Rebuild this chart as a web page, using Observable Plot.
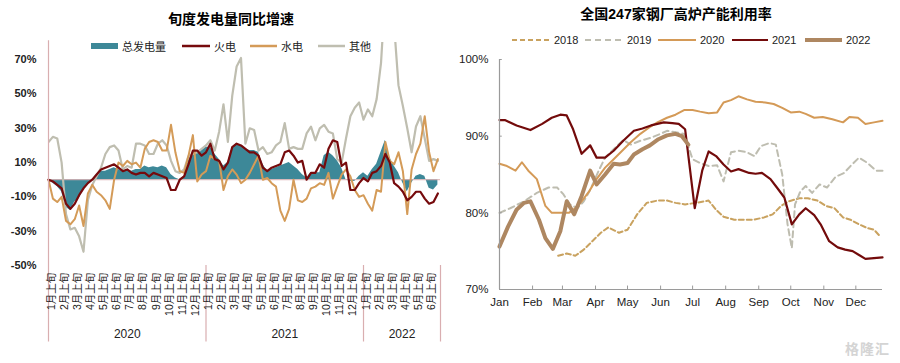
<!DOCTYPE html>
<html><head><meta charset="utf-8">
<script src="https://cdn.jsdelivr.net/npm/d3@7"></script>
<script src="https://cdn.jsdelivr.net/npm/@observablehq/plot@0.6"></script>
<style>
body{margin:0;background:#fff;font-family:"Liberation Sans",Arial,"Noto Sans CJK SC",sans-serif;}
#wrap{position:relative;width:900px;height:363px;overflow:hidden;background:#fff;}
.title{position:absolute;font-weight:bold;font-size:14px;color:#000;white-space:nowrap;transform:translate(-50%,-50%);}
.chart{position:absolute;top:0;}
.leg{position:absolute;font-size:11px;color:#222;display:flex;align-items:center;white-space:nowrap;transform:translateY(-50%);}
.leg svg{margin-right:4px;display:block;}
.wm{position:absolute;left:845px;top:338px;font-size:14px;color:#d4d4d4;font-weight:bold;letter-spacing:1px;}
</style></head><body><div id="wrap"></div>
<script>
// ---------- Left chart data: 旬度发电量同比增速 (%), 2020年1月上旬 - 2022年6月下旬 ----------
const total = [0,-2,-4,-7,-16,-18,-13,-11,-6,-3, 0,3,5,5,6,7,6,5,6,5, 6,6,8,7,7.5,7,8,7,3,1, 0,2,11,16,16,17,19,19,15,12, 8,10,19,21,20,18,17,17,16,9, 5,6,7,8,9,10,8,6,3,1, 4,4,4,14,16,14,11,7,0,-1, -1,2,4,2,6,9,16,23,13,8, 4,-2,-7,-2,2,3,2,-5,-6,-3];
const thermal = [0,-1,-3,-5,-14,-17,-14,-9,-5,-2, 0,3,6,7,8,9,7,5,6,4, 3,4,4,2,4,3,2,1,-6,-6, 0,2,9,17,17,14,16,21,12,11, 6,10,19,21,20,18,16,16,14,7, 5,7,8,9,16,17,14,10,11,0, 4,4,9,7,18,23,22,8,10,-6, -6,-2,1,-1,4,5,8,15,10,-2, -4,-7,-12,-10,-7,-7,-11,-14,-13,-8];
const hydro = [0,-11,-13,-10,-24,-26,-23,-15,-27,-8, -3,-7,-9,-12,-17,0,10,8,11,9, 10,7,18,22,23,22,17,17,32,16, 5,4,14,26,-1,3,5,14,12,11, -6,2,6,3,-2,0,4,9,14,0, 1,-2,-4,-18,-24,-17,0,-12,-13,-11, -5,-4,-2,-3,4,-11,-4,3,6,2, -6,-10,-9,-14,-18,-6,-7,22,11,9, 16,5,-20,6,15,21,37,16,5,12];
const other = [22,25,24,10,-20,-29,-28,-33,-42,-12, -3,2,7,15,19,20,17,6,8,7, 21,21,20,15,15,21,23,20,11,5, 4,6,14,15,16,18,20,23,17,28, 44,22,49,66,71,21,30,29,17,19, 15,16,20,22,33,18,19,18,18,27, 31,23,30,32,28,27,12,10,24,37, 42,45,35,41,37,47,68,110,110,90, 55,43,30,16,31,37,24,11,12,11];
const monthLabels = ["1月上旬","2月上旬","3月上旬","4月上旬","5月上旬","6月上旬","7月上旬","8月上旬","9月上旬","10月上旬","11月上旬","12月上旬"];
const tickLabels = [...monthLabels, ...monthLabels, ...monthLabels.slice(0, 6)];
const years = ["2020", "2021", "2022"];
const leftYTicks = [-50, -30, -10, 10, 30, 50, 70];
const leftSeriesNames = ["总发电量", "火电", "水电", "其他"];

// ---------- Right chart data: 全国247家钢厂高炉产能利用率 (%) ----------
const days2018 = [55,63,71,79,87,95,102,112,120,129,138,148,157,165,174,184,196,203,210,220,229,238,248,256,264,271,281,289,298,306,314,322,329,337,345,351,357];
const util2018 = [74.4,74.7,74.4,75.2,76.3,77.4,78.1,77.4,77.8,79.8,81.3,81.6,81.6,81.3,81.1,81.3,81.6,80.4,79.5,79.1,79.1,79.1,79.4,79.8,80.9,81.5,81.9,81.9,81.6,80.9,80.6,79.4,79.1,78.5,78.0,77.8,76.9];
const days2019 = [0,10,23,35,46,54,60,66,73,79,85,93,99,107,116,123,132,142,151,157,165,173,181,188,196,204,210,217,224,232,239,245,253,259,265,270,274,277,282,287,293,300,307,315,323,329,337,345,353,359];
const util2019 = [80.0,80.6,81.5,82.6,83.3,83.3,82.4,81.1,80.6,81.5,83.0,85.5,87.2,88.3,89.5,88.9,89.4,89.8,90.3,90.7,90.5,90.3,87.0,86.5,86.1,86.2,84.1,87.9,88.1,87.9,87.4,88.7,89.1,88.9,85.0,78.5,75.4,81.1,82.8,83.5,82.6,83.7,83.3,84.7,85.2,86.1,87.2,86.5,85.5,85.5];
const days2020 = [0,7,15,21,27,35,43,49,57,65,71,77,84,91,99,107,115,123,132,140,148,157,165,173,181,188,196,204,210,217,224,232,240,249,257,265,273,281,287,295,303,312,322,328,336,343,351,359];
const util2020 = [86.4,86.1,85.5,86.6,85.5,84.4,80.9,80.0,80.0,80.0,80.6,81.5,82.8,84.4,85.9,87.0,88.1,89.2,90.3,91.1,91.8,92.4,92.8,93.4,93.4,93.2,93.0,93.1,94.4,94.7,95.2,94.8,94.5,94.4,94.2,93.7,93.1,93.2,92.9,92.4,92.5,92.2,91.8,92.5,92.4,91.6,91.8,92.0];
const days2021 = [0,5,16,29,40,49,57,63,69,77,85,91,99,107,116,126,134,142,154,162,168,174,183,190,196,203,210,217,224,234,240,246,254,260,267,274,281,287,295,301,309,317,324,331,337,343,351,359];
const util2021 = [92.1,92.1,91.4,90.8,91.6,92.4,92.8,92.7,90.9,87.7,88.8,87.2,87.2,88.1,89.4,90.7,91.0,91.4,91.8,91.7,91.6,90.9,80.6,85.5,88.0,87.4,86.3,85.4,85.7,85.2,85.1,85.2,84.4,83.3,82.0,78.5,79.8,80.6,79.7,78.5,76.3,75.5,75.2,75.0,74.5,74.0,74.1,74.2];
const days2022 = [0,8,16,23,29,37,43,50,57,63,70,77,85,91,99,107,113,120,126,134,141,149,157,165,171,177];
const util2022 = [75.6,78.2,80.4,81.3,81.5,79.1,76.7,75.3,77.6,81.5,79.8,82.2,85.5,83.7,85.0,86.4,86.3,86.5,87.6,88.3,88.8,89.6,90.1,90.3,90.0,88.9];
const monthStarts = [0,31,59,90,120,151,181,212,243,273,304,334];
const monthNames = ["Jan","Feb","Mar","Apr","May","Jun","Jul","Aug","Sep","Oct","Nov","Dec"];
const rightYTicks = [70, 80, 90, 100];
const rightSeriesNames = ["2018", "2019", "2020", "2021", "2022"];

// ---------- styles ----------
const FONT = '"Liberation Sans", Arial, "Noto Sans CJK SC", sans-serif';
const C = {teal: "#3d8898", red: "#760a0c", tan: "#d49b58", gray: "#bfbeb0", pink: "#d9aeb0",
           gold: "#c9a25f", gray19: "#bebdb0", c2020: "#d49a57", c2021: "#730b0b", c2022: "#ae8761", axis: "#9a9a9a"};

const wrap = document.getElementById("wrap");

// ---------- Left chart ----------
const rows = total.map((t, i) => ({i, total: t, thermal: thermal[i], hydro: hydro[i], other: other[i]}));
const tickIdx = tickLabels.map((_, j) => j * 3);
const yearStart = [0, 36, 72];
const yearEnd = [36, 72, 89.6];
const left = Plot.plot({
  width: 450, height: 363,
  marginLeft: 48, marginRight: 10, marginTop: 42, marginBottom: 98,
  x: {domain: [0, 89.6], axis: null, label: null},
  y: {domain: [-50, 80], axis: null, label: null},
  style: {fontFamily: FONT, fontSize: "11px", background: "transparent", color: "#111", overflow: "visible"},
  marks: [
    Plot.areaY(rows, {x: "i", y: "total", fill: C.teal}),
    Plot.ruleY([0], {stroke: C.pink, strokeWidth: 1}),
    Plot.lineY(rows, {x: "i", y: "other", stroke: C.gray, strokeWidth: 2.2, clip: true}),
    Plot.lineY(rows, {x: "i", y: "hydro", stroke: C.tan, strokeWidth: 2}),
    Plot.lineY(rows, {x: "i", y: "thermal", stroke: C.red, strokeWidth: 2.2}),
    Plot.axisY({ticks: leftYTicks, tickFormat: d => d + "%", tickSize: 0, tickPadding: 12, fontSize: 11, fontWeight: "bold", fill: "#222", label: null}),
    Plot.ruleX([0], {y1: 81, y2: -94.6, stroke: C.pink, strokeWidth: 1.2}),
    Plot.ruleX(yearEnd, {y1: -50, y2: -94.6, stroke: C.pink, strokeWidth: 1.2}),
    Plot.text(tickIdx, {x: d => d + 0.6, y: -54.2, text: (d, j) => tickLabels[j], rotate: -90, textAnchor: "end", fontSize: 10.5, fill: "#222"}),
    Plot.text(years, {x: (d, j) => (yearStart[j] + yearEnd[j]) / 2, y: -90.2, text: d => d, fontSize: 12, fill: "#222"})
  ]
});
left.classList.add("chart");
left.style.left = "0px";
wrap.appendChild(left);

// ---------- Right chart ----------
const toRows = (ds, vs) => ds.map((d, k) => ({d, v: vs[k]}));
const right = Plot.plot({
  width: 450, height: 363,
  marginLeft: 49, marginRight: 18, marginTop: 59, marginBottom: 74,
  x: {domain: [0, 359], axis: null, label: null},
  y: {domain: [70, 100], axis: null, label: null},
  style: {fontFamily: FONT, fontSize: "11.5px", background: "transparent", color: "#111", overflow: "visible"},
  marks: [
    Plot.lineY(toRows(days2018, util2018), {x: "d", y: "v", stroke: C.gold, strokeWidth: 2, strokeDasharray: "5,3"}),
    Plot.lineY(toRows(days2019, util2019), {x: "d", y: "v", stroke: C.gray19, strokeWidth: 2, strokeDasharray: "6,4"}),
    Plot.lineY(toRows(days2020, util2020), {x: "d", y: "v", stroke: C.c2020, strokeWidth: 2}),
    Plot.lineY(toRows(days2021, util2021), {x: "d", y: "v", stroke: C.c2021, strokeWidth: 2.2}),
    Plot.lineY(toRows(days2022, util2022), {x: "d", y: "v", stroke: C.c2022, strokeWidth: 4}),
    Plot.ruleX([0], {y1: 70, y2: 100, stroke: C.axis, strokeWidth: 1.2}),
    Plot.ruleY([70], {x1: 0, x2: 359, stroke: C.axis, strokeWidth: 1.2}),
    Plot.ruleX(monthStarts.slice(1), {y1: 70, y2: 70.45, stroke: C.axis}),
    Plot.ruleY(rightYTicks.slice(1), {x1: 0, x2: 2.6, stroke: C.axis}),
    Plot.axisY({ticks: rightYTicks, tickFormat: d => d + "%", tickSize: 0, tickPadding: 11, fill: "#222", label: null}),
    Plot.axisX({ticks: monthStarts, tickFormat: d => monthNames[monthStarts.indexOf(d)], tickSize: 0, tickPadding: 8, fill: "#222", label: null})
  ]
});
right.classList.add("chart");
right.style.left = "450px";
wrap.appendChild(right);

// ---------- Titles ----------
function addTitle(text, cx, cy) {
  const t = document.createElement("div");
  t.className = "title"; t.textContent = text;
  t.style.left = cx + "px"; t.style.top = cy + "px";
  wrap.appendChild(t);
}
addTitle("旬度发电量同比增速", 231, 18);
addTitle("全国247家钢厂高炉产能利用率", 676, 13);

// ---------- Legends ----------
function addLegend(x, y, w, label, swatch) {
  const d = document.createElement("div");
  d.className = "leg";
  d.style.left = x + "px"; d.style.top = y + "px";
  const ns = "http://www.w3.org/2000/svg";
  const s = document.createElementNS(ns, "svg");
  s.setAttribute("width", w); s.setAttribute("height", 8);
  let el;
  if (swatch.rect) {
    el = document.createElementNS(ns, "rect");
    el.setAttribute("x", 0); el.setAttribute("y", 1); el.setAttribute("width", w); el.setAttribute("height", 6);
    el.setAttribute("fill", swatch.color);
  } else {
    el = document.createElementNS(ns, "line");
    el.setAttribute("x1", 0); el.setAttribute("x2", w); el.setAttribute("y1", 4); el.setAttribute("y2", 4);
    el.setAttribute("stroke", swatch.color); el.setAttribute("stroke-width", swatch.width || 2.5);
    if (swatch.dash) el.setAttribute("stroke-dasharray", swatch.dash);
  }
  s.appendChild(el); d.appendChild(s);
  const sp = document.createElement("span"); sp.textContent = label; d.appendChild(sp);
  wrap.appendChild(d);
}
addLegend(91, 46, 27, leftSeriesNames[0], {rect: true, color: C.teal});
addLegend(182, 46, 28, leftSeriesNames[1], {color: C.red});
addLegend(250, 46, 27, leftSeriesNames[2], {color: C.tan});
addLegend(318, 46, 27, leftSeriesNames[3], {color: C.gray});

addLegend(512, 40, 38, rightSeriesNames[0], {color: C.gold, dash: "5,3", width: 2});
addLegend(585, 40, 38, rightSeriesNames[1], {color: C.gray19, dash: "6,4", width: 2});
addLegend(658, 40, 38, rightSeriesNames[2], {color: C.c2020, width: 2});
addLegend(732, 40, 36, rightSeriesNames[3], {color: C.c2021, width: 2.2});
addLegend(805, 40, 37, rightSeriesNames[4], {color: C.c2022, width: 4});

const wm = document.createElement("div"); wm.className = "wm"; wm.textContent = "格隆汇"; wrap.appendChild(wm);
</script></body></html>
